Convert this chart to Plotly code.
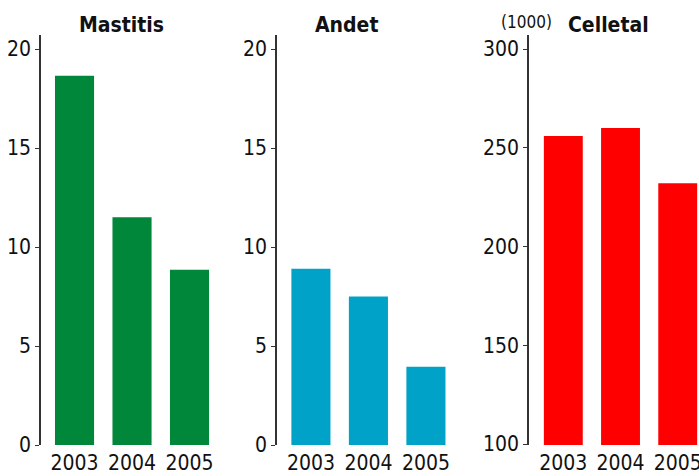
import plotly.graph_objects as go

years = ["2003", "2004", "2005"]
mastitis = [18.65, 11.5, 8.85]
andet = [8.9, 7.5, 3.95]
celletal = [256, 260, 232]
titles = ["Mastitis", "Andet", "Celletal"]
colors = ["#00873a", "#00a3c7", "#ff0000"]

W, H = 699, 476
FONT = "DejaVu Sans Condensed, Liberation Sans Narrow, Arial Narrow, sans-serif"
TICK = 21

fig = go.Figure()
series = [mastitis, andet, celletal]
for i, (vals, col) in enumerate(zip(series, colors)):
    fig.add_trace(go.Bar(x=years, y=vals, marker=dict(color=col, line=dict(width=0)),
                         xaxis="x" if i == 0 else f"x{i+1}",
                         yaxis="y" if i == 0 else f"y{i+1}",
                         width=0.68, showlegend=False, hoverinfo="x+y"))

def px_x(p):
    return p / W

def px_y(p):
    return (H - p) / H

ydom = [px_y(445), px_y(35)]
xdoms = [(41, 215), (277, 451), (529, 699)]
xranges = [[-0.583, -0.583 + 174 / 57.5], [-0.59, -0.59 + 174 / 57.5], [-0.6, -0.6 + 170 / 57.2]]
yranges = [[0, 20.71], [0, 20.71], [99.5, 307.1]]
ytickvals = [[0, 5, 10, 15, 20], [0, 5, 10, 15, 20], [100, 150, 200, 250, 300]]

layout = dict(width=W, height=H, margin=dict(l=0, r=0, t=0, b=0, pad=0),
              paper_bgcolor="white", plot_bgcolor="white",
              font=dict(family=FONT, size=TICK, color="#111111"), bargap=0.32)
for i in range(3):
    xs = "xaxis" if i == 0 else f"xaxis{i+1}"
    ys = "yaxis" if i == 0 else f"yaxis{i+1}"
    yref = "y" if i == 0 else f"y{i+1}"
    xref = "x" if i == 0 else f"x{i+1}"
    layout[xs] = dict(domain=[px_x(xdoms[i][0]), min(1, px_x(xdoms[i][1]))], range=xranges[i],
                      anchor=yref, showline=False, showgrid=False, zeroline=False,
                      ticks="", ticklabelstandoff=3,
                      tickfont=dict(size=TICK, family=FONT, color="#111111"),
                      automargin=False, fixedrange=True)
    layout[ys] = dict(domain=ydom, range=yranges[i], anchor=xref, showline=True,
                      linecolor="#333333", linewidth=1.5, showgrid=False, zeroline=False,
                      ticks="outside", ticklen=4, tickwidth=1.2, tickcolor="#333333",
                      tickvals=ytickvals[i], tickfont=dict(size=TICK, family=FONT, color="#111111"),
                      automargin=False, fixedrange=True)
fig.update_layout(**layout)

title_pos = [121, 346, 608]
for t, xc in zip(titles, title_pos):
    fig.add_annotation(text=f"<b>{t}</b>", x=px_x(xc), y=px_y(25), xref="paper", yref="paper",
                       showarrow=False, xanchor="center", yanchor="middle",
                       font=dict(size=21, family=FONT, color="#111111"))
fig.add_annotation(text="(1000)", x=px_x(526), y=px_y(22), xref="paper", yref="paper",
                   showarrow=False, xanchor="center", yanchor="middle",
                   font=dict(size=17, family=FONT, color="#111111"))

fig.write_html("out.html", config={"displayModeBar": False},
               post_script="document.body.style.margin='0';document.body.style.overflow='hidden';")
